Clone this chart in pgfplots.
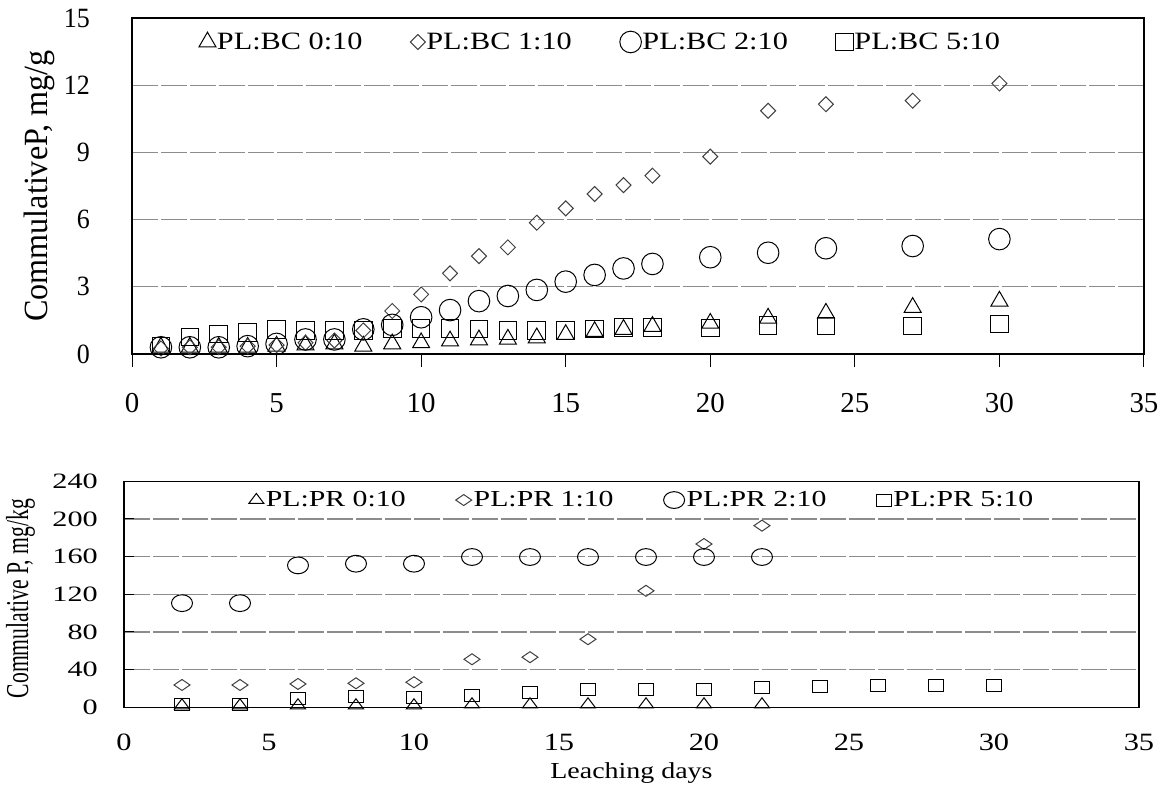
\documentclass[border=0pt]{standalone}
\usepackage{fontspec}
\setmainfont{Liberation Serif}
\newfontfamily\fTopTick{Liberation Serif}[FakeStretch=0.93]
\newfontfamily\fTopLab{Liberation Serif}[FakeStretch=0.95]
\newfontfamily\fTopLeg{Liberation Serif}[FakeStretch=1.215]
\newfontfamily\fBotLeg{Liberation Serif}[FakeStretch=1.3]
\newfontfamily\fBotTick{Liberation Serif}[FakeStretch=1.38]
\newfontfamily\fBotX{Liberation Serif}[FakeStretch=1.22]
\newfontfamily\fBotLab{Liberation Serif}[FakeStretch=0.68]
\usepackage{pgfplots}
\pgfplotsset{compat=1.18}
\definecolor{gridgray}{HTML}{8C8C8C}
\definecolor{diagray}{HTML}{404040}
\pgfplotsset{
  pt/.style={only marks,
    legend image code/.code={\draw[##1] plot coordinates {(0bp,0bp)};}},
}
\begin{document}
\begin{tikzpicture}
\useasboundingbox (0,0) rectangle (1169bp,785bp);

% top: PL:BC
\begin{axis}[
  at={(132bp,431bp)}, anchor=south west,
  width=1012bp, height=336bp, scale only axis,
  xmin=0, xmax=35, ymin=0, ymax=15,
  xtick={0,5,...,35}, ytick={0,3,...,15},
  axis line style={black, line width=1.3bp},
  ymajorgrids,
  grid style={gridgray, line width=1.2bp, dash pattern=on 26bp off 3bp},
  tick align=outside, major tick length=13bp,
  xtick pos=left, ytick pos=left,
  xtick style={black, line width=1bp},
  ytick style={draw=none},
  /pgf/number format/assume math mode=true,
  xticklabel style={font=\fontsize{29}{29}\selectfont, anchor=base, inner sep=0pt, yshift=-46bp},
  yticklabel style={font=\fTopTick\fontsize{28}{28}\selectfont, anchor=east, inner sep=0pt, xshift=-29bp},
  ylabel={CommulativeP, mg/g},
  ylabel style={font=\fTopLab\fontsize{34}{34}\selectfont, at={(axis description cs:-0.0914,0.5)}, anchor=center},
  legend columns=4,
  legend style={draw=none, fill=none, at={(0.0662,0.9286)}, anchor=west,
    inner sep=0pt, outer sep=0pt, nodes={inner sep=0pt},
    font=\fTopLeg\fontsize{25}{25}\selectfont,
    /tikz/every even column/.append style={column sep=48bp},
    /tikz/every odd column/.append style={column sep=1bp}},
]
\addplot[pt, mark=triangle, mark size=9.8bp, mark options={black, line width=1bp}] coordinates {
 (1,0.3)(2,0.3)(3,0.3)(4,0.3)(5,0.35)(6,0.4)(7,0.45)(8,0.35)(9,0.45)(10,0.5)(11,0.58)(12,0.63)
 (13,0.66)(14,0.72)(15,0.87)(16,1.0)(17,1.1)(18,1.23)(20,1.37)(22,1.6)(24,1.82)(27,2.08)(30,2.36)};
\addlegendentry{PL:BC 0:10}
\addplot[pt, mark=diamond, mark size=7.5bp, mark options={diagray, line width=1bp, xscale=1.33}] coordinates {
 (1,0.25)(2,0.3)(3,0.3)(4,0.35)(5,0.4)(6,0.5)(7,0.6)(8,1.05)(9,1.92)(10,2.66)(11,3.6)(12,4.37)
 (13,4.76)(14,5.86)(15,6.5)(16,7.14)(17,7.54)(18,7.96)(20,8.81)(22,10.86)(24,11.15)(27,11.31)(30,12.08)};
\addlegendentry{PL:BC 1:10}
\addplot[pt, mark=o, mark size=10.8bp, mark options={black, line width=1bp}] coordinates {
 (1,0.3)(2,0.3)(3,0.3)(4,0.35)(5,0.45)(6,0.65)(7,0.65)(8,1.1)(9,1.3)(10,1.64)(11,1.96)(12,2.36)
 (13,2.59)(14,2.86)(15,3.23)(16,3.53)(17,3.82)(18,4.02)(20,4.32)(22,4.52)(24,4.72)(27,4.82)(30,5.13)};
\addlegendentry{PL:BC 2:10}
\addplot[pt, mark=square, mark size=8.8bp, mark options={black, line width=1bp}] coordinates {
 (1,0.36)(2,0.76)(3,0.89)(4,0.97)(5,1.1)(6,1.04)(7,1.04)(8,1.05)(9,1.15)(10,1.15)(11,1.15)(12,1.12)
 (13,1.04)(14,1.04)(15,1.04)(16,1.12)(17,1.19)(18,1.19)(20,1.16)(22,1.28)(24,1.25)(27,1.25)(30,1.34)};
\addlegendentry{PL:BC 5:10}
\end{axis}

% bottom: PL:PR
\begin{axis}[
  at={(124bp,77.7bp)}, anchor=south west,
  width=1015bp, height=226bp, scale only axis,
  xmin=0, xmax=35, ymin=0, ymax=240,
  xtick={0,5,...,35}, ytick={0,40,...,240},
  axis line style={black, line width=1.3bp},
  ymajorgrids,
  grid style={gridgray, line width=1.2bp, dash pattern=on 26bp off 3bp},
  tick align=inside, major tick length=10bp,
  xtick pos=left, ytick pos=left,
  xtick style={draw=none},
  ytick style={black, line width=1bp},
  /pgf/number format/assume math mode=true,
  xticklabel style={font=\fBotX\fontsize{25}{25}\selectfont, anchor=base, inner sep=0pt, yshift=-42.7bp},
  yticklabel style={font=\fBotTick\fontsize{22}{22}\selectfont, anchor=east, inner sep=0pt, xshift=-26bp},
  xlabel={Leaching days},
  xlabel style={font=\fBotX\fontsize{23}{23}\selectfont, at={(axis description cs:0.5,0)}, anchor=base, yshift=-70.7bp},
  ylabel={Commulative P, mg/kg},
  ylabel style={font=\fBotLab\fontsize{32}{32}\selectfont, at={(axis description cs:-0.102,0.481)}, anchor=center},
  legend columns=4,
  legend style={draw=none, fill=none, at={(0.123,0.917)}, anchor=west,
    inner sep=0pt, outer sep=0pt, nodes={inner sep=0pt},
    font=\fBotLeg\fontsize{23}{23}\selectfont,
    /tikz/every even column/.append style={column sep=50bp},
    /tikz/every odd column/.append style={column sep=2bp}},
]
\addplot[pt, mark=triangle, mark size=8.66bp, mark options={black, line width=1bp, yscale=0.77}] coordinates {
 (2,2)(4,2)(6,2)(8,2)(10,2)(12,3)(14,3)(16,3)(18,3)(20,3)(22,3)};
\addlegendentry{PL:PR 0:10}
\addplot[pt, mark=diamond, mark size=5.5bp, mark options={diagray, line width=1bp, xscale=1.94}] coordinates {
 (2,23.7)(4,23.7)(6,24.8)(8,25.5)(10,26.6)(12,51)(14,53.2)(16,72.3)(18,123.7)(20,173.4)(22,192.9)};
\addlegendentry{PL:PR 1:10}
\addplot[pt, mark=o, mark size=10.5bp, mark options={black, line width=1bp, yscale=0.8}] coordinates {
 (2,110.6)(4,110.6)(6,150.7)(8,152.5)(10,152.5)(12,159.6)(14,159.6)(16,159.6)(18,159.6)(20,159.6)(22,159.6)};
\addlegendentry{PL:PR 2:10}
\addplot[pt, mark=square, mark size=7.5bp, mark options={black, line width=1bp, yscale=0.8}] coordinates {
 (2,2.5)(4,2.5)(6,9.6)(8,11.3)(10,10.6)(12,12.4)(14,16)(16,19.1)(18,19.1)(20,19.1)(22,21.3)(24,22)(26,23.4)(28,23.4)(30,23.4)};
\addlegendentry{PL:PR 5:10}
\end{axis}
\end{tikzpicture}
\end{document}
